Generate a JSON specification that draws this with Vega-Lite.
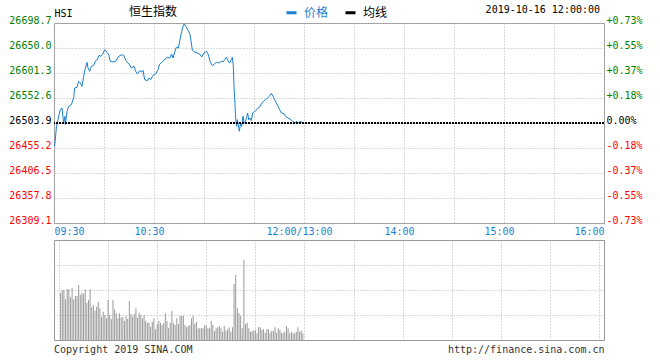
{
  "$schema": "https://vega.github.io/schema/vega-lite/v6.json",
  "background": "#ffffff",
  "padding": {"left": 8, "top": 4, "right": 5, "bottom": 3},
  "spacing": 2,
  "datasets": {
    "price": [
      {"t":0.4,"p":26458.5},{"t":1.4,"p":26494.2},{"t":3.0,"p":26520.1},{"t":3.8,"p":26529.8},{"t":4.8,"p":26533.1},{"t":5.8,"p":26503.9},{"t":6.6,"p":26516.9},{"t":6.8,"p":26500.6},{"t":7.8,"p":26526.7},{"t":8.8,"p":26536.4},{"t":10.4,"p":26539.5},{"t":11.8,"p":26552.6},{"t":12.4,"p":26572.1},{"t":13.8,"p":26573.4},{"t":14.8,"p":26585.1},{"t":15.8,"p":26581.8},{"t":16.8,"p":26575.4},{"t":17.8,"p":26594.9},{"t":18.8,"p":26611.0},{"t":19.8,"p":26622.1},{"t":20.4,"p":26611.0},{"t":21.4,"p":26604.6},{"t":22.4,"p":26614.4},{"t":23.8,"p":26616.3},{"t":25.0,"p":26625.3},{"t":26.0,"p":26627.2},{"t":27.0,"p":26635.8},{"t":28.0,"p":26633.8},{"t":29.4,"p":26638.9},{"t":30.4,"p":26646.7},{"t":31.8,"p":26641.6},{"t":32.8,"p":26636.9},{"t":33.8,"p":26624.1},{"t":35.4,"p":26622.7},{"t":37.0,"p":26624.1},{"t":38.8,"p":26633.8},{"t":40.8,"p":26636.9},{"t":41.8,"p":26635.8},{"t":43.4,"p":26624.1},{"t":45.0,"p":26618.8},{"t":46.4,"p":26611.0},{"t":48.0,"p":26614.4},{"t":49.0,"p":26604.6},{"t":50.0,"p":26599.4},{"t":51.4,"p":26605.8},{"t":52.6,"p":26603.2},{"t":53.4,"p":26606.6},{"t":54.4,"p":26588.3},{"t":56.0,"p":26586.3},{"t":57.0,"p":26591.6},{"t":58.0,"p":26588.3},{"t":59.4,"p":26596.8},{"t":61.0,"p":26599.4},{"t":62.4,"p":26607.7},{"t":63.4,"p":26618.8},{"t":65.0,"p":26622.7},{"t":66.6,"p":26628.6},{"t":68.0,"p":26631.9},{"t":69.4,"p":26630.5},{"t":70.6,"p":26638.3},{"t":71.4,"p":26630.5},{"t":72.6,"p":26643.6},{"t":73.4,"p":26651.4},{"t":74.6,"p":26650.0},{"t":75.4,"p":26663.0},{"t":76.4,"p":26679.2},{"t":77.4,"p":26692.3},{"t":78.2,"p":26696.8},{"t":79.4,"p":26690.3},{"t":80.6,"p":26683.7},{"t":81.6,"p":26675.9},{"t":82.4,"p":26659.7},{"t":83.0,"p":26645.5},{"t":84.6,"p":26641.6},{"t":86.0,"p":26640.3},{"t":87.4,"p":26638.3},{"t":88.6,"p":26632.5},{"t":90.0,"p":26640.3},{"t":91.6,"p":26643.6},{"t":92.6,"p":26636.9},{"t":93.6,"p":26624.1},{"t":95.0,"p":26615.5},{"t":96.4,"p":26619.4},{"t":97.6,"p":26622.1},{"t":99.0,"p":26620.8},{"t":100.4,"p":26624.1},{"t":101.4,"p":26622.7},{"t":102.4,"p":26627.2},{"t":103.4,"p":26631.9},{"t":104.4,"p":26625.3},{"t":105.4,"p":26620.8},{"t":106.4,"p":26627.2},{"t":107.0,"p":26631.9},{"t":107.6,"p":26614.4},{"t":108.0,"p":26575.4},{"t":108.6,"p":26539.5},{"t":109.0,"p":26513.6},{"t":109.6,"p":26497.5},{"t":110.0,"p":26510.3},{"t":110.6,"p":26500.6},{"t":111.2,"p":26487.7},{"t":112.0,"p":26503.9},{"t":112.6,"p":26497.5},{"t":113.4,"p":26516.9},{"t":114.0,"p":26503.9},{"t":114.8,"p":26507.2},{"t":115.6,"p":26515.0},{"t":116.2,"p":26523.4},{"t":116.8,"p":26510.3},{"t":117.6,"p":26513.6},{"t":118.4,"p":26508.4},{"t":119.2,"p":26523.4},{"t":120.0,"p":26525.3},{"t":121.0,"p":26527.9},{"t":122.0,"p":26531.8},{"t":123.2,"p":26534.5},{"t":124.4,"p":26540.9},{"t":125.6,"p":26546.2},{"t":127.0,"p":26549.3},{"t":128.0,"p":26552.6},{"t":129.2,"p":26555.9},{"t":130.4,"p":26561.8},{"t":131.4,"p":26555.9},{"t":132.4,"p":26549.3},{"t":133.4,"p":26542.9},{"t":134.4,"p":26536.4},{"t":135.4,"p":26529.8},{"t":136.4,"p":26523.4},{"t":138.0,"p":26522.0},{"t":139.0,"p":26516.9},{"t":140.4,"p":26513.6},{"t":141.6,"p":26511.7},{"t":142.6,"p":26509.2},{"t":143.6,"p":26505.8},{"t":144.6,"p":26503.9},{"t":145.6,"p":26507.2},{"t":146.6,"p":26503.9},{"t":147.6,"p":26507.2},{"t":148.6,"p":26505.3},{"t":149.6,"p":26503.3}
    ],
    "volume": [
      {"t":1,"v":47.3},{"t":2,"v":50},{"t":3,"v":50},{"t":4,"v":40.7},{"t":5,"v":50.7},{"t":6,"v":50.7},{"t":7,"v":42.7},{"t":8,"v":52},{"t":9,"v":40.7},{"t":10,"v":44},{"t":11,"v":44},{"t":12,"v":55},{"t":13,"v":45},{"t":14,"v":47.3},{"t":15,"v":46},{"t":16,"v":50.7},{"t":17,"v":37.3},{"t":18,"v":40},{"t":19,"v":50.7},{"t":20,"v":32.7},{"t":21,"v":35},{"t":22,"v":29.3},{"t":23,"v":33.3},{"t":24,"v":38.3},{"t":25,"v":31.7},{"t":26,"v":23.3},{"t":27,"v":28.3},{"t":28,"v":25},{"t":29,"v":21.7},{"t":30,"v":40},{"t":31,"v":25},{"t":32,"v":20.7},{"t":33,"v":40},{"t":34,"v":30.7},{"t":35,"v":26.7},{"t":36,"v":21.7},{"t":37,"v":26.7},{"t":38,"v":22.7},{"t":39,"v":22.7},{"t":40,"v":19},{"t":41,"v":24},{"t":42,"v":21},{"t":43,"v":39},{"t":44,"v":26},{"t":45,"v":23.3},{"t":46,"v":26},{"t":47,"v":31.7},{"t":48,"v":22.3},{"t":49,"v":27.3},{"t":50,"v":25},{"t":51,"v":21.7},{"t":52,"v":25},{"t":53,"v":19.3},{"t":54,"v":17.3},{"t":55,"v":17.3},{"t":56,"v":13.3},{"t":57,"v":18.3},{"t":58,"v":21.7},{"t":59,"v":10.7},{"t":60,"v":16},{"t":61,"v":19.3},{"t":62,"v":17.3},{"t":63,"v":15},{"t":64,"v":17.3},{"t":65,"v":26.7},{"t":66,"v":19},{"t":67,"v":11.7},{"t":68,"v":17.3},{"t":69,"v":29},{"t":70,"v":16.7},{"t":71,"v":15},{"t":72,"v":21.7},{"t":73,"v":16},{"t":74,"v":24},{"t":75,"v":24.3},{"t":76,"v":24},
      {"t":77,"v":15},{"t":78,"v":12.7},{"t":79,"v":14},{"t":80,"v":15},{"t":81,"v":21.7},{"t":82,"v":24.3},{"t":83,"v":16},{"t":84,"v":18.3},{"t":85,"v":11.7},{"t":86,"v":11.7},{"t":87,"v":11.7},{"t":88,"v":11.7},{"t":89,"v":15},{"t":90,"v":14},{"t":91,"v":11.7},{"t":92,"v":11.7},{"t":93,"v":19.3},{"t":94,"v":15},{"t":95,"v":9},{"t":96,"v":11.7},{"t":97,"v":12.7},{"t":98,"v":14},{"t":99,"v":11.7},{"t":100,"v":8.3},{"t":101,"v":14},{"t":102,"v":9.3},{"t":103,"v":10.7},{"t":104,"v":12.7},{"t":105,"v":8.3},{"t":106,"v":12.7},{"t":107,"v":56},{"t":108,"v":65},{"t":109,"v":31.7},{"t":110,"v":26.7},{"t":111,"v":24},{"t":112,"v":11.7},{"t":113,"v":80},{"t":114,"v":16},{"t":115,"v":17.3},{"t":116,"v":11.7},{"t":117,"v":8.3},{"t":118,"v":9.3},{"t":119,"v":9.3},{"t":120,"v":10},{"t":121,"v":6.7},{"t":122,"v":12.7},{"t":123,"v":12.7},{"t":124,"v":10},{"t":125,"v":10.7},{"t":126,"v":7.3},{"t":127,"v":10.7},{"t":128,"v":10.7},{"t":129,"v":7.3},{"t":130,"v":9.3},{"t":131,"v":9},{"t":132,"v":12.7},{"t":133,"v":7.3},{"t":134,"v":11.7},{"t":135,"v":10},{"t":136,"v":7.3},{"t":137,"v":6.7},{"t":138,"v":8.3},{"t":139,"v":14},{"t":140,"v":11.7},{"t":141,"v":6.7},{"t":142,"v":8.3},{"t":143,"v":6.7},{"t":144,"v":6.7},{"t":145,"v":8.3},{"t":146,"v":12.7},{"t":147,"v":8.3},{"t":148,"v":9.3},{"t":149,"v":6.7}
    ]
  },
  "vconcat": [
    {
      "width": 550,
      "height": 200,
      "title": {"text": "2019-10-16 12:00:00", "orient": "top", "anchor": "end", "frame": "group", "offset": -7, "dx": -4, "font": "DejaVu Sans Mono", "fontSize": 10, "fontWeight": "normal", "color": "#000000"},
      "data": {"name": "price"},
      "layer": [
        {
          "mark": {"type": "line", "strokeWidth": 1, "clip": false},
          "encoding": {
            "x": {
              "field": "t", "type": "quantitative",
              "scale": {"domain": [0, 330], "nice": false, "zero": false},
              "axis": {
                "values": [0, 30, 60, 90, 120, 150, 180, 210, 240, 270, 300, 330],
                "grid": true, "gridColor": "#b4b4b4", "gridDash": [1, 2],
                "ticks": false, "domain": false, "title": null,
                "labelExpr": "datum.value == 0 ? '09:30' : datum.value == 60 ? '10:30' : datum.value == 150 ? '12:00/13:00' : datum.value == 210 ? '14:00' : datum.value == 270 ? '15:00' : datum.value == 330 ? '16:00' : ''",
                "labelFlush": true, "labelOverlap": false,
                "labelColor": "#1a7fcf", "labelPadding": 3,
                "labelOffset": {"condition": {"test": "datum.value == 0 || datum.value == 330", "value": 0}, "value": -5}
              }
            },
            "y": {
              "field": "p", "type": "quantitative",
              "scale": {"domain": [26309.1, 26698.7], "nice": false, "zero": false},
              "axis": {
                "values": [26309.1, 26357.8, 26406.5, 26455.2, 26503.9, 26552.6, 26601.3, 26650.0, 26698.7],
                "grid": true, "gridColor": "#b4b4b4", "gridDash": [1, 2],
                "ticks": false, "domain": false,
                "labelExpr": "format(datum.value, '.1f')",
                "labelPadding": 3, "labelBaseline": "alphabetic", "labelFlush": false, "labelOverlap": false,
                "labelColor": {"condition": [{"test": "datum.value > 26504", "value": "#008000"}, {"test": "datum.value < 26503", "value": "#ff0000"}], "value": "#000000"},
                "title": "HSI", "titleAngle": 0, "titleAlign": "left", "titleBaseline": "alphabetic",
                "titleX": 0, "titleY": -7, "titleFont": "DejaVu Sans Mono", "titleFontSize": 10, "titleFontWeight": "normal", "titleColor": "#000000"
              }
            },
            "color": {
              "datum": "价格", "type": "nominal",
              "scale": {"domain": ["价格", "均线"], "range": ["#1a7fcf", "#000000"]},
              "legend": {
                "orient": "none", "legendX": 75, "legendY": -17, "direction": "horizontal",
                "title": "恒生指数", "titleOrient": "left", "titlePadding": 107,
                "titleFont": "Noto Sans CJK SC", "titleFontSize": 12, "titleFontWeight": "normal", "titleColor": "#000000",
                "labelFont": "Noto Sans CJK SC", "labelFontSize": 12,
                "symbolType": "stroke", "symbolStrokeWidth": 3, "symbolSize": 100,
                "labelOffset": 6, "columnPadding": 10,
                "encode": {"labels": {"update": {"fill": {"signal": "datum.label === '价格' ? '#1a7fcf' : '#000000'"}}}}
              }
            }
          }
        },
        {
          "mark": {"type": "rule", "color": "#000000", "strokeDash": [2, 1], "strokeWidth": 1},
          "encoding": {
            "y": {
              "datum": 26503.9, "type": "quantitative",
              "axis": {
                "orient": "right",
                "values": [26309.1, 26357.8, 26406.5, 26455.2, 26503.9, 26552.6, 26601.3, 26650.0, 26698.7],
                "grid": false, "ticks": false, "domain": false, "title": null,
                "labelExpr": "datum.value > 26504 ? '+' + format((datum.value - 26503.9) / 26503.9 * 100, '.2f') + '%' : datum.value < 26503 ? '-' + format((26503.9 - datum.value) / 26503.9 * 100, '.2f') + '%' : '0.00%'",
                "labelPadding": 2, "labelBaseline": "alphabetic", "labelFlush": false, "labelOverlap": false,
                "labelColor": {"condition": [{"test": "datum.value > 26504", "value": "#008000"}, {"test": "datum.value < 26503", "value": "#ff0000"}], "value": "#000000"}
              }
            }
          }
        }
      ],
      "resolve": {"axis": {"y": "independent"}}
    },
    {
      "width": 550,
      "height": 100,
      "title": {"text": "Copyright 2019 SINA.COM", "orient": "bottom", "anchor": "start", "frame": "group", "offset": -9, "font": "DejaVu Sans Mono", "fontSize": 10, "fontWeight": "normal", "color": "#333333"},
      "data": {"name": "volume"},
      "mark": {"type": "bar", "width": 1, "color": "#999999"},
      "encoding": {
        "x": {
          "field": "t", "type": "quantitative",
          "scale": {"domain": [0, 330], "nice": false, "zero": false},
          "axis": {
            "values": [0, 30, 60, 90, 120, 150, 180, 210, 240, 270, 300, 330],
            "grid": true, "gridColor": "#b4b4b4", "gridDash": [1, 2],
            "ticks": false, "domain": false, "labels": false,
            "title": "http://finance.sina.com.cn", "titleAnchor": "end",
            "titleFont": "DejaVu Sans Mono", "titleFontSize": 10, "titleFontWeight": "normal", "titleColor": "#333333", "titlePadding": 4
          }
        },
        "y": {
          "field": "v", "type": "quantitative",
          "scale": {"domain": [0, 100], "nice": false},
          "axis": {
            "values": [25, 50, 75],
            "grid": true, "gridColor": "#b4b4b4", "gridDash": [1, 2],
            "ticks": false, "domain": false, "labels": false, "title": null
          }
        }
      }
    }
  ],
  "config": {
    "view": {"stroke": "#999999", "strokeWidth": 1},
    "axis": {"labelFont": "DejaVu Sans Mono", "labelFontSize": 10}
  }
}
